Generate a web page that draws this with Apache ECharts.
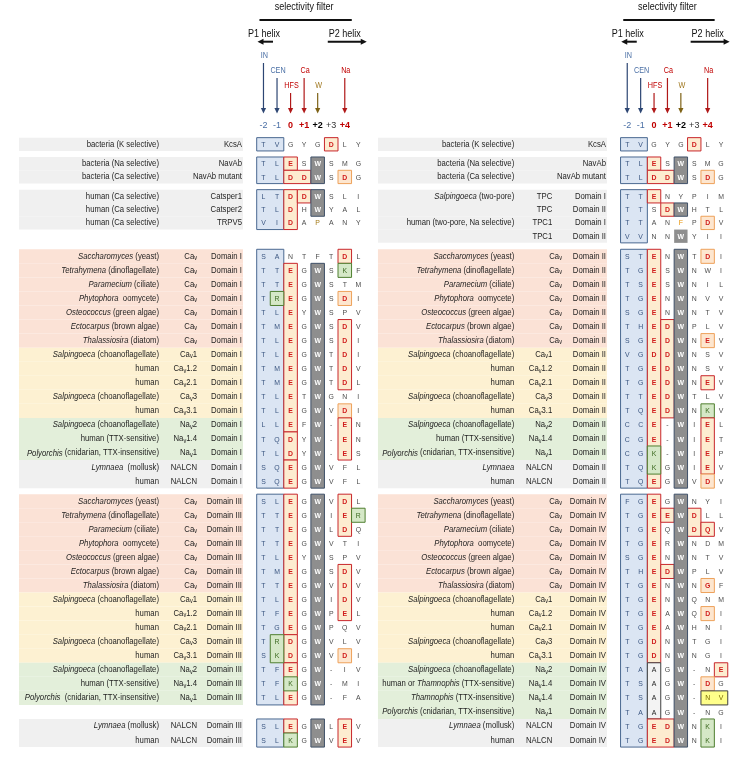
<!DOCTYPE html>
<html><head><meta charset="utf-8">
<script src="https://cdn.jsdelivr.net/npm/echarts@6.0.0/dist/echarts.min.js"></script>
<style>html,body{margin:0;padding:0;background:#fff}#c{width:750px;height:759px}</style>
</head><body><div id="c"></div>
<script>
// ---------- DATA ----------
const positionLabels = ['-2','-1','0','+1','+2','+3','+4',''];
const markerLabels = ['IN','CEN','HFS','Ca','W','Na'];
const markerColumns = [0,1,2,3,4,6];
const markerTier = [0,1,2,1,2,1];
const markerKind = ['blue','blue','red','red','olive','red'];

// left panel (one entry per row slot; null = empty slot)
const leftOrganisms = [
 'bacteria (K selective)','bacteria (Na selective)','bacteria (Ca selective)',
 'human (Ca selective)','human (Ca selective)','human (Ca selective)',null,
 '*Saccharomyces* (yeast)','*Tetrahymena* (dinoflagellate)','*Paramecium* (ciliate)','*Phytophora*  oomycete)',
 '*Osteococcus* (green algae)','*Ectocarpus* (brown algae)','*Thalassiosira* (diatom)',
 '*Salpingoeca* (choanoflagellate)','human','human','*Salpingoeca* (choanoflagellate)','human',
 '*Salpingoeca* (choanoflagellate)','human (TTX-sensitive)','*Polyorchis* (cnidarian, TTX-insensitive)',
 '*Lymnaea*  (mollusk)','human',
 '*Saccharomyces* (yeast)','*Tetrahymena* (dinoflagellate)','*Paramecium* (ciliate)','*Phytophora*  oomycete)',
 '*Osteococcus* (green algae)','*Ectocarpus* (brown algae)','*Thalassiosira* (diatom)',
 '*Salpingoeca* (choanoflagellate)','human','human','*Salpingoeca* (choanoflagellate)','human',
 '*Salpingoeca* (choanoflagellate)','human (TTX-sensitive)','*Polyorchis*  (cnidarian, TTX-insensitive)',null,
 '*Lymnaea* (mollusk)','human'
];
const leftChannels = [
 'KcsA','NavAb','NavAb mutant','Catsper1','Catsper2','TRPV5',null,
 'Ca_v','Ca_v','Ca_v','Ca_v','Ca_v','Ca_v','Ca_v','Ca_v1','Ca_v1.2','Ca_v2.1','Ca_v3','Ca_v3.1','Na_v2','Na_v1.4','Na_v1','NALCN','NALCN',
 'Ca_v','Ca_v','Ca_v','Ca_v','Ca_v','Ca_v','Ca_v','Ca_v1','Ca_v1.2','Ca_v2.1','Ca_v3','Ca_v3.1','Na_v2','Na_v1.4','Na_v1',null,'NALCN','NALCN'
];
const leftDomains = [
 '','','','','','',null,
 'Domain I','Domain I','Domain I','Domain I','Domain I','Domain I','Domain I','Domain I','Domain I','Domain I','Domain I','Domain I','Domain I','Domain I','Domain I','Domain I','Domain I',
 'Domain III','Domain III','Domain III','Domain III','Domain III','Domain III','Domain III','Domain III','Domain III','Domain III','Domain III','Domain III','Domain III','Domain III','Domain III',null,'Domain III','Domain III'
];
const leftSequences = [
 'TVGYGDLY','TLESWSMG','TLDDWSDG','LTDDWSLI','TLDHWYAL','VIDAPANY',null,
 'SANTFTDL','TTEGWSKF','TTEGWSTM','TREGWSDI','TLEYWSPV','TMEGWSDV','TLEGWSDI',
 'TLEGWTDI','TMEGWTDV','TMEGWTDL','TLETWGNI','TLEGWVDI','LLEFW-EN','TQDYW-EN','TLDYW-ES','SQEGWVFL','SQEGWVFL',
 'SLEGWVDL','TTEGWIER','TTEGWLDQ','TTEGWVTI','TLEYWSPV','TMEGWSDV','TTEGWVDV',
 'TLEGWIDV','TFEGWPEL','TGEGWPQV','TRDGWVLV','SKDGWVDI','TFEGW-IV','TFKGW-MI','TLEGW-FA',null,'SLEGWLEV','SLKGWVEV'
];
const leftBands = 'gggggg-pppppppyyyyynnnggpppppppyyyyynnn-gg'.split('');
// highlight boxes: [style, firstColumn, lastColumn, firstSlot, lastSlot]
const leftBoxes = [
 ['blue',0,1,0,0],['red',5,5,0,0],
 ['blue',0,1,1,2],['red',2,2,1,1],['red',2,3,2,2],['w',4,4,1,2],['orange',6,6,2,2],
 ['blue',0,1,3,5],['red',2,2,3,5],['red',3,3,3,3],['w',4,4,3,4],['olive',4,4,5,5],
 ['blue',0,1,7,23],['red',2,2,8,19],['red',2,2,20,21],['red',2,2,22,23],['w',4,4,8,23],['green',1,1,10,10],
 ['red',6,6,7,7],['green',6,6,8,8],['orange',6,6,10,10],['red',6,6,12,16],['orange',6,6,18,18],['red',6,6,19,21],
 ['blue',0,1,24,38],['red',2,2,24,33],['red',2,2,34,35],['red',2,2,36,38],['green',2,2,37,37],['w',4,4,24,38],['green',1,1,34,35],
 ['red',6,6,24,26],['green',7,7,25,25],['red',6,6,29,32],['orange',6,6,35,35],
 ['blue',0,1,40,41],['red',2,2,40,40],['green',2,2,41,41],['w',4,4,40,41],['red',6,6,40,41]
];

// right panel
const rightOrganisms = [
 'bacteria (K selective)','bacteria (Na selective)','bacteria (Ca selective)',
 '*Salpingoeca* (two-pore)','','human (two-pore, Na selective)','',
 '*Saccharomyces* (yeast)','*Tetrahymena* (dinoflagellate)','*Paramecium* (ciliate)','*Phytophora*  oomycete)',
 '*Osteococcus* (green algae)','*Ectocarpus* (brown algae)','*Thalassiosira* (diatom)',
 '*Salpingoeca* (choanoflagellate)','human','human','*Salpingoeca* (choanoflagellate)','human',
 '*Salpingoeca* (choanoflagellate)','human (TTX-sensitive)','*Polyorchis* (cnidarian, TTX-insensitive)',
 '*Lymnaea*','human',
 '*Saccharomyces* (yeast)','*Tetrahymena* (dinoflagellate)','*Paramecium* (ciliate)','*Phytophora*  oomycete)',
 '*Osteococcus* (green algae)','*Ectocarpus* (brown algae)','*Thalassiosira* (diatom)',
 '*Salpingoeca* (choanoflagellate)','human','human','*Salpingoeca* (choanoflagellate)','human',
 '*Salpingoeca* (choanoflagellate)','human or *Thamnophis* (TTX-sensitive)','*Thamnophis* (TTX-insensitive)','*Polyorchis* (cnidarian, TTX-insensitive)',
 '*Lymnaea* (mollusk)','human'
];
const rightChannels = [
 'KcsA','NavAb','NavAb mutant','TPC','TPC','TPC1','TPC1',
 'Ca_v','Ca_v','Ca_v','Ca_v','Ca_v','Ca_v','Ca_v','Ca_v1','Ca_v1.2','Ca_v2.1','Ca_v3','Ca_v3.1','Na_v2','Na_v1.4','Na_v1','NALCN','NALCN',
 'Ca_v','Ca_v','Ca_v','Ca_v','Ca_v','Ca_v','Ca_v','Ca_v1','Ca_v1.2','Ca_v2.1','Ca_v3','Ca_v3.1','Na_v2','Na_v1.4','Na_v1.4','Na_v1','NALCN','NALCN'
];
const rightDomains = [
 '','','','Domain I','Domain II','Domain I','Domain II',
 'Domain II','Domain II','Domain II','Domain II','Domain II','Domain II','Domain II','Domain II','Domain II','Domain II','Domain II','Domain II','Domain II','Domain II','Domain II','Domain II','Domain II',
 'Domain IV','Domain IV','Domain IV','Domain IV','Domain IV','Domain IV','Domain IV','Domain IV','Domain IV','Domain IV','Domain IV','Domain IV','Domain IV','Domain IV','Domain IV','Domain IV','Domain IV','Domain IV'
];
const rightSequences = [
 'TVGYGDLY','TLESWSMG','TLDDWSDG','TTENYPIM','TTSDWHTL','TTANFPDV','VVNNWYII',
 'STENWTDI','TGESWNWI','TSESWNIL','TGENWNVV','SGENWNTV','THEDWPLV','SGEDWNEV',
 'VGDDWNSV','TGEDWNSV','TGEDWNEV','TTEDWTLV','TQEDWNKV','CCE-WIEL','CGE-WIET','CGK-WIEP','TQKGWIEV','TQEGWVDV',
 'FGEGWNYI','TGEEWDLL','TGEQWDQV','TGERWNDM','SGENWNTV','THEDWPLV','TGENWNGF',
 'TGENWQNM','TGEAWQDI','TGEAWHNI','TGDNWTGI','TGDNWNGI','TAAGW-NE','TSAGW-DG','TSAGW-NV','TAAGW-NG','TGEDWNKI','TGEDWNKI'
];
const rightBands = 'gggggggpppppppyyyyynnnggpppppppyyyyynnnngg'.split('');
const rightBoxes = [
 ['blue',0,1,0,0],['red',5,5,0,0],
 ['blue',0,1,1,2],['red',2,2,1,1],['red',2,3,2,2],['w',4,4,1,2],['orange',6,6,2,2],
 ['blue',0,1,3,6],['red',2,2,3,3],['red',3,3,4,4],['w',4,4,4,4],['amber',4,4,5,5],['wplain',4,4,6,6],['orange',6,6,5,5],
 ['blue',0,1,7,23],['red',2,2,7,23],['green',2,2,21,22],['red',3,3,12,18],['w',4,4,7,23],
 ['orange',6,6,7,7],['orange',6,6,13,13],['red',6,6,16,16],['green',6,6,18,18],['red',6,6,19,22],['orange',6,6,23,23],
 ['blue',0,1,24,41],['red',2,2,24,35],['red',3,3,25,25],['red',3,3,29,29],['red',5,5,25,26],['red',6,6,26,26],
 ['gray',2,2,36,39],['red',2,3,40,41],['w',4,4,24,41],
 ['orange',6,6,30,30],['orange',6,6,32,32],['red',7,7,36,36],['orange',6,6,37,37],['yellow',6,7,38,38],['green',6,6,40,41]
];

// ---------- LAYOUT / STYLE ----------
const FONT = '"Liberation Sans", Arial, sans-serif';
const SX = 0.86;
const ROW_PX = 14.05, ROW0_PX = 144.3, GRID_TOP = 133, H = 759;
const GAP_BEFORE = [1,3,7,24];
const TOP_STEP = 0.947, GAP = 0.43, NSLOT = 42;
const slotPos = [], slotH = [];
for (let s = 0; s < NSLOT; s++) {
  const h = s <= 6 ? TOP_STEP : 1;
  slotH.push(h);
  slotPos.push(s === 0 ? 0 : slotPos[s-1] + h + (GAP_BEFORE.includes(s) ? GAP : 0));
}
const BAND_COLORS = {g:'#f0f0f0', p:'#fbe2d6', y:'#fdf1d2', n:'#e3efda'};
const BOX_STYLE = {
  blue:{fill:'#dbe5f3',stroke:'#4a6890',text:'#3b5680',bold:false},
  red:{fill:'#fdecd0',stroke:'#c8262b',text:'#d01c1c',bold:true},
  orange:{fill:'#fde6cf',stroke:'#eea15a',text:'#d01c1c',bold:true},
  w:{fill:'#8e8e8e',stroke:'#3f5068',text:'#ffffff',bold:true},
  wplain:{fill:'#8e8e8e',stroke:null,text:'#ffffff',bold:true},
  green:{fill:'#d5e8c7',stroke:'#4f7f30',text:'#3d6b22',bold:false},
  yellow:{fill:'#ffff8a',stroke:'#404040',text:'#7a6a00',bold:false},
  gray:{fill:'#f3f3f3',stroke:'#404040',text:'#222222',bold:false},
  olive:{fill:null,stroke:null,text:'#a47a18',bold:false},
  amber:{fill:null,stroke:null,text:'#e8940a',bold:false}
};
const DEFAULT_LETTER = {text:'#4d4d4d', bold:false};
const MARK_COLORS = {blue:['#4a6fa5','#2d4673'], red:['#c00000','#b01818'], olive:['#a07820','#7e6216']};
const TIER_Y = [-88.3, -73.3, -58.3];
const POS_STYLE = ['a','a','r','r','k','m','r','m'];

const panels = [
  {org:leftOrganisms, ch:leftChannels, dom:leftDomains, seq:leftSequences, bands:leftBands, boxes:leftBoxes,
   gridLeft:256.7, colW:13.55, orgR:-104.5, chR:-66.5, domR:-21.5, bandL:-244.5, bandR:-20.5, bareShift:0},
  {org:rightOrganisms, ch:rightChannels, dom:rightDomains, seq:rightSequences, bands:rightBands, boxes:rightBoxes,
   gridLeft:620.55, colW:13.4, orgR:-113, chR:-75, domR:-21.3, bandL:-249.3, bandR:-20.3, bareShift:9.7}
];
panels.forEach(p => {
  p.cell = p.seq.map(() => new Array(8).fill(null));
  p.boxes.forEach(b => { for (let r=b[3]; r<=b[4]; r++) for (let c=b[1]; c<=b[2]; c++) p.cell[r][c] = b[0]; });
});

const RICH = {
  n:{fontSize:9, fontFamily:FONT, fill:'#1e1e1e', lineHeight:11},
  i:{fontSize:9, fontFamily:FONT, fill:'#1e1e1e', fontStyle:'italic', lineHeight:11},
  s:{fontSize:6.5, fontFamily:FONT, fill:'#1e1e1e', lineHeight:11, verticalAlign:'bottom'}
};
function toRich(str) {
  return str.split(/(\*[^*]+\*|_[a-z])/).filter(t => t).map(t =>
    t[0] === '*' ? '{i|' + t.slice(1,-1) + '}' : (t[0] === '_' && t.length === 2 ? '{s|' + t[1] + '}' : '{n|' + t + '}')).join('');
}
function richText(x, y, str) {
  return {type:'text', x:x, y:y, scaleX:SX, style:{text:toRich(str), rich:RICH, align:'right', verticalAlign:'middle', fontSize:9, fontFamily:FONT, fill:'#1e1e1e'}};
}
function plainText(x, y, str, size, color, bold, sx) {
  return {type:'text', x:x, y:y, scaleX:sx || SX, style:{text:str, align:'center', verticalAlign:'middle', fontSize:size, fontFamily:FONT, fill:color, fontWeight: bold ? 'bold' : 'normal'}};
}

// ---------- RENDERERS ----------
function bandRenderer(P) {
  return function (params, api) {
    const s = api.value(2);
    const p = api.coord([0, api.value(1)]);
    const h = slotH[s] * api.size([1,1])[1];
    return {type:'rect', shape:{x:p[0]+P.bandL, y:p[1]-h/2, width:P.bandR-P.bandL, height:h},
      style:{fill:BAND_COLORS[P.bands[s]]}, silent:true};
  };
}
function boxRenderer(P) {
  return function (params, api) {
    const b = P.boxes[api.value(2)];
    const st = BOX_STYLE[b[0]];
    if (!st.fill && !st.stroke) return null;
    const unit = api.size([1,1]);
    const a = api.coord([b[1], slotPos[b[3]]]);
    const z = api.coord([b[2], slotPos[b[4]]]);
    const x0 = a[0] - unit[0]/2, x1 = z[0] + unit[0]/2;
    const y0 = a[1] - slotH[b[3]]*unit[1]/2, y1 = z[1] + slotH[b[4]]*unit[1]/2;
    return {type:'rect', shape:{x:x0, y:y0, width:x1-x0, height:y1-y0},
      style:{fill:st.fill || 'none', stroke:st.stroke || 'none', lineWidth: st.stroke ? 1 : 0}, silent:true};
  };
}
function letterRenderer(P) {
  return function (params, api) {
    const c = api.value(0), s = api.value(2);
    const ch = P.seq[s][c];
    const key = P.cell[s][c];
    const st = key ? BOX_STYLE[key] : DEFAULT_LETTER;
    const p = api.coord([c, api.value(1)]);
    return plainText(p[0], p[1]+0.5, ch, 7.5, st.text, st.bold, 0.92);
  };
}
function labelRenderer(P) {
  return function (params, api) {
    const s = api.value(2);
    const p = api.coord([0, api.value(1)]);
    const kids = [];
    if (P.org[s]) kids.push(richText(p[0]+P.orgR, p[1], P.org[s]));
    const ch = P.ch[s], dom = P.dom[s];
    if (ch) {
      if (!dom) kids.push(richText(p[0]+P.domR, p[1], ch));
      else kids.push(richText(p[0]+P.chR + (ch === 'Ca_v' ? P.bareShift : 0), p[1], ch));
    }
    if (dom) kids.push(richText(p[0]+P.domR, p[1], dom));
    return {type:'group', children:kids};
  };
}
function arrowHead(x, y, dir, size, color) {
  // dir: 'down' | 'left' | 'right'
  let pts;
  if (dir === 'down') pts = [[x, y], [x-2.6, y-5.5], [x+2.6, y-5.5]];
  else if (dir === 'left') pts = [[x, y], [x+6, y-3], [x+6, y+3]];
  else pts = [[x, y], [x-6, y-3], [x-6, y+3]];
  return {type:'polygon', shape:{points:pts}, style:{fill:color}};
}
function headerRenderer(params, api) {
  const i = api.value(2);
  const y0 = api.coord([0, 0])[1];
  if (i < 0) {
    const xa = api.coord([0, 0])[0], xb = api.coord([6, 0])[0];
    const ya = y0 - 102.6;
    return {type:'group', children:[
      plainText((xa+xb)/2, y0-136.8, 'selectivity filter', 10.5, '#111', false),
      {type:'line', shape:{x1:xa-4, y1:y0-124.3, x2:xb+7, y2:y0-124.3}, style:{stroke:'#111', lineWidth:2}},
      plainText(xa+0.5, y0-110.3, 'P1 helix', 10.5, '#111', false),
      {type:'line', shape:{x1:xa+9.5, y1:ya, x2:xa-1, y2:ya}, style:{stroke:'#111', lineWidth:2}},
      arrowHead(xa-6, ya, 'left', 6, '#111'),
      plainText(xb, y0-110.3, 'P2 helix', 10.5, '#111', false),
      {type:'line', shape:{x1:xb-17, y1:ya, x2:xb+17, y2:ya}, style:{stroke:'#111', lineWidth:2}},
      arrowHead(xb+22, ya, 'right', 6, '#111')
    ]};
  }
  const x = api.coord([api.value(0), 0])[0];
  const col = MARK_COLORS[markerKind[i]];
  const ly = y0 + TIER_Y[markerTier[i]];
  const tip = y0 - 30.8;
  return {type:'group', children:[
    plainText(x+1, ly, markerLabels[i], 8.5, col[0], false, 0.85),
    {type:'line', shape:{x1:x, y1:ly+7, x2:x, y2:tip-4}, style:{stroke:col[1], lineWidth:1.2}},
    arrowHead(x, tip, 'down', 5, col[1])
  ]};
}

// ---------- OPTION ----------
const grids = [], xAxes = [], yAxes = [], series = [];
panels.forEach((P, k) => {
  grids.push({left:P.gridLeft, width:P.colW*8, top:GRID_TOP, height:H-GRID_TOP});
  xAxes.push({type:'category', gridIndex:k, data:positionLabels, position:'top',
    axisLine:{show:false}, axisTick:{show:false}, splitLine:{show:false},
    axisLabel:{interval:0, margin:3,
      formatter:(v, i) => v ? '{' + POS_STYLE[i] + '|' + v + '}' : '',
      rich:{
        a:{color:'#4a6fa5', fontSize:9, fontFamily:FONT},
        r:{color:'#c00000', fontSize:9, fontFamily:FONT, fontWeight:'bold'},
        k:{color:'#000000', fontSize:9, fontFamily:FONT, fontWeight:'bold'},
        m:{color:'#333333', fontSize:9, fontFamily:FONT}
      }}});
  yAxes.push({type:'value', gridIndex:k, inverse:true, show:false,
    min:(GRID_TOP-ROW0_PX)/ROW_PX, max:(H-ROW0_PX)/ROW_PX, splitLine:{show:false}});
  const slotsUsed = [];
  P.seq.forEach((q, s) => { if (q) slotsUsed.push(s); });
  const common = {type:'custom', xAxisIndex:k, yAxisIndex:k, silent:true, animation:false, clip:false};
  series.push(Object.assign({}, common, {name:'bands'+k, renderItem:bandRenderer(P),
    data: P.bands.map((b, s) => b !== '-' ? [0, slotPos[s], s] : null).filter(d => d)}));
  series.push(Object.assign({}, common, {name:'boxes'+k, renderItem:boxRenderer(P),
    data: P.boxes.map((b, i) => [b[1], slotPos[b[3]], i])}));
  const letters = [];
  slotsUsed.forEach(s => { for (let c = 0; c < 8; c++) letters.push([c, slotPos[s], s]); });
  series.push(Object.assign({}, common, {name:'letters'+k, renderItem:letterRenderer(P), data:letters}));
  series.push(Object.assign({}, common, {name:'labels'+k, renderItem:labelRenderer(P),
    data: slotsUsed.map(s => [0, slotPos[s], s])}));
  series.push(Object.assign({}, common, {name:'header'+k, renderItem:headerRenderer,
    data: markerColumns.map((c, i) => [c, 0, i]).concat([[0, 0, -1]])}));
});

const chart = echarts.init(document.getElementById('c'), null, {renderer:'canvas'});
chart.setOption({animation:false, backgroundColor:'#ffffff', grid:grids, xAxis:xAxes, yAxis:yAxes, series:series});
</script>
</body></html>
